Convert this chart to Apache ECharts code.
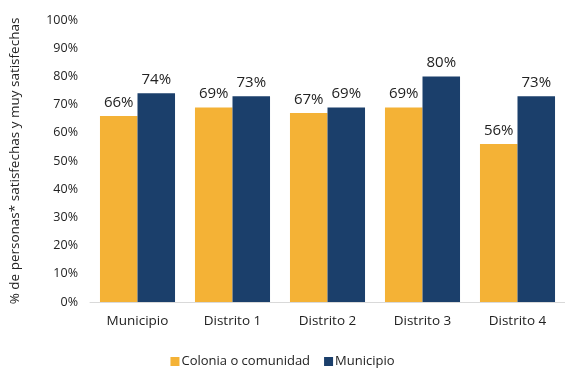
<!DOCTYPE html>
<html>
<head>
<meta charset="utf-8">
<script src="https://cdn.jsdelivr.net/npm/echarts@6/dist/echarts.min.js"></script>
<style>
  html, body { margin: 0; padding: 0; background: #fff; }
  #chart { width: 565px; height: 370px; }
</style>
</head>
<body>
<div id="chart"></div>
<script>
var categories = ['Municipio', 'Distrito 1', 'Distrito 2', 'Distrito 3', 'Distrito 4'],
    coloniaValues = [66, 69, 67, 69, 56],
    municipioValues = [74, 73, 69, 80, 73],
    seriesNames = ['Colonia o comunidad', 'Municipio'],
    yAxisTitle = '% de personas* satisfechas y muy satisfechas';

var fontName = 'Open Sans',
    chart = echarts.init(document.getElementById('chart'));

var labelStyle = {
    show: true,
    position: 'top',
    distance: 6,
    color: '#222',
    fontFamily: fontName,
    fontSize: 15,
    formatter: '{c}%'
};

var option = {
    animation: false,
    textStyle: { fontFamily: fontName },
    grid: {
        left: 90,
        top: 20,
        width: 480,
        bottom: 68
    },
    legend: {
        top: 355,
        left: 'center',
        padding: 0,
        itemWidth: 9,
        itemHeight: 9,
        itemGap: 14,
        icon: 'rect',
        textStyle: { fontFamily: fontName, fontSize: 13, color: '#222', padding: [0, 0, 0, -3] },
        data: seriesNames
    },
    xAxis: [{
        type: 'category',
        data: categories,
        axisTick: { show: false },
        axisLine: { lineStyle: { color: '#d9d9d9', width: 1 } },
        axisLabel: { color: '#222', fontSize: 13.5, margin: 12, fontFamily: fontName }
    }],
    yAxis: [{
        type: 'value',
        min: 0,
        max: 100,
        interval: 10,
        name: yAxisTitle,
        nameLocation: 'middle',
        nameGap: 68,
        nameTextStyle: { color: '#222', fontSize: 13.5, fontFamily: fontName },
        splitLine: { show: false },
        axisLine: { show: false },
        axisTick: { show: false },
        axisLabel: { color: '#222', fontSize: 12.5, margin: 12, formatter: '{value}%', fontFamily: fontName }
    }],
    series: [{
        name: seriesNames[0],
        type: 'bar',
        data: coloniaValues,
        barGap: '0%',
        barCategoryGap: '21%',
        itemStyle: { color: '#F4B236' },
        label: labelStyle
    }, {
        name: seriesNames[1],
        type: 'bar',
        data: municipioValues,
        itemStyle: { color: '#1B3F6B' },
        label: labelStyle
    }]
};

chart.setOption(option);
</script>
</body>
</html>
